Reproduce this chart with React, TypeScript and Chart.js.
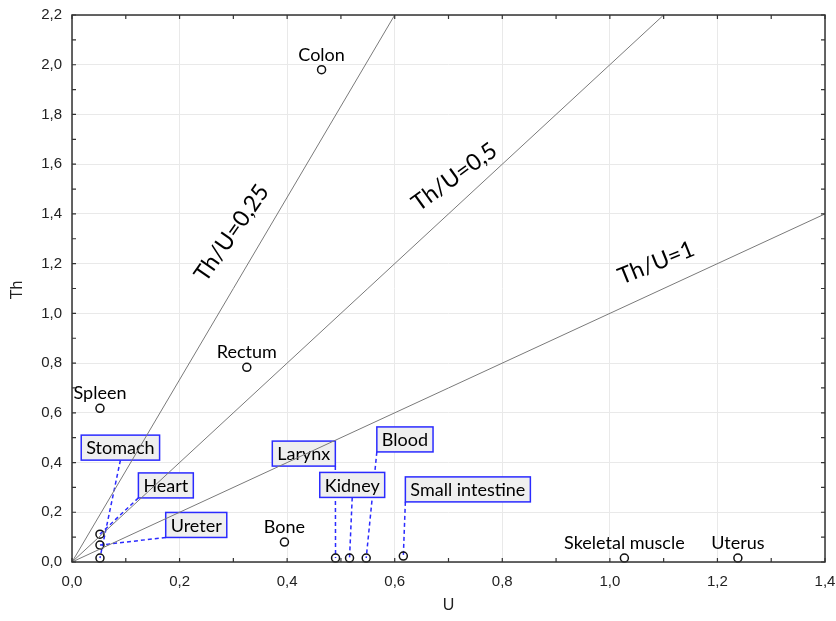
import React, { useEffect, useRef } from "react";
import { Chart, registerables } from "chart.js";

Chart.register(...registerables);

// ---- data ----
const organs = ["Colon", "Rectum", "Spleen", "Stomach", "Heart", "Ureter", "Bone", "Larynx", "Kidney", "Blood", "Small intestine", "Skeletal muscle", "Uterus"];
const uValues = [0.464, 0.325, 0.052, 0.052, 0.052, 0.052, 0.395, 0.49, 0.516, 0.547, 0.616, 1.027, 1.238];
const thValues = [1.98, 0.783, 0.618, 0.016, 0.112, 0.068, 0.08, 0.016, 0.016, 0.016, 0.024, 0.016, 0.016];
const boxedLabel = [false, false, false, true, true, true, false, true, true, true, true, false, false];
// boxed label centres in data units (U, Th)
const boxU = [0, 0, 0, 0.09, 0.1745, 0.231, 0, 0.431, 0.521, 0.619, 0.736, 0, 0];
const boxTh = [0, 0, 0, 0.46, 0.308, 0.149, 0, 0.436, 0.31, 0.493, 0.292, 0, 0];
const boxAnchor = ["", "", "", "bottom", "bottomLeft", "bottomLeft", "", "bottomRight", "bottom", "bottomLeft", "bottomLeft", "", ""];

const refLabels = ["Th/U=0,25", "Th/U=0,5", "Th/U=1"];
const refEndU = [0.6, 1.1, 1.4];
const refEndTh = [2.2, 2.2, 1.4];
const refLabelU = [0.297, 0.711, 1.086];
const refLabelTh = [1.323, 1.549, 1.203];
const refLabelAngle = [-55, -36, -22];

const xMin = 0, xMax = 1.4, yMin = 0, yMax = 2.2;
const majorStep = 0.2, minorStep = 0.1;

const fmt = (v: number) => v.toFixed(1).replace(".", ",");

const labelFont = "18px Lato, 'Open Sans', sans-serif";

const annotPlugin = {
  id: "annot",
  beforeDatasetsDraw(chart: any) {
    const { ctx } = chart;
    const xs = chart.scales.x, ys = chart.scales.y;
    ctx.save();
    ctx.font = labelFont;
    const boxes: any[] = [];
    organs.forEach((name, i) => {
      if (!boxedLabel[i]) return;
      const cx = xs.getPixelForValue(boxU[i]);
      const cy = ys.getPixelForValue(boxTh[i]);
      const w = ctx.measureText(name).width + 10;
      const h = 25;
      const l = cx - w / 2, t = cy - h / 2;
      boxes.push({ name, l, t, w, h, cx, cy });
      let ax = cx, ay = t + h;
      if (boxAnchor[i] === "bottomLeft") ax = l;
      if (boxAnchor[i] === "bottomRight") ax = l + w;
      const px = xs.getPixelForValue(uValues[i]);
      const py = ys.getPixelForValue(thValues[i]);
      ctx.strokeStyle = "#2b2bff";
      ctx.lineWidth = 1.5;
      ctx.setLineDash([4, 3]);
      ctx.beginPath();
      ctx.moveTo(ax, ay);
      ctx.lineTo(px, py);
      ctx.stroke();
    });
    ctx.setLineDash([]);
    boxes.forEach((b) => {
      ctx.fillStyle = "#efefef";
      ctx.fillRect(b.l, b.t, b.w, b.h);
      ctx.strokeStyle = "#2b2bff";
      ctx.lineWidth = 1.5;
      ctx.strokeRect(b.l, b.t, b.w, b.h);
      ctx.fillStyle = "#000";
      ctx.textAlign = "center";
      ctx.textBaseline = "middle";
      ctx.fillText(b.name, b.cx, b.cy + 1);
    });
    ctx.restore();
  },
  afterDatasetsDraw(chart: any) {
    const { ctx, chartArea } = chart;
    const xs = chart.scales.x, ys = chart.scales.y;
    ctx.save();
    ctx.font = labelFont;
    ctx.fillStyle = "#000";
    ctx.textAlign = "center";
    ctx.textBaseline = "middle";
    organs.forEach((name, i) => {
      if (boxedLabel[i]) return;
      const px = xs.getPixelForValue(uValues[i]);
      const py = ys.getPixelForValue(thValues[i]);
      ctx.fillText(name, px, py - 15);
    });
    ctx.font = "23px Lato, 'Open Sans', sans-serif";
    refLabels.forEach((t, i) => {
      const px = xs.getPixelForValue(refLabelU[i]);
      const py = ys.getPixelForValue(refLabelTh[i]);
      ctx.save();
      ctx.translate(px, py);
      ctx.rotate((refLabelAngle[i] * Math.PI) / 180);
      ctx.fillText(t, 0, 0);
      ctx.restore();
    });
    ctx.strokeStyle = "#333";
    ctx.lineWidth = 1.5;
    ctx.strokeRect(chartArea.left, chartArea.top, chartArea.right - chartArea.left, chartArea.bottom - chartArea.top);
    ctx.lineWidth = 1.2;
    const tl = 4;
    for (let k = 0; k <= Math.round((xMax - xMin) / minorStep); k++) {
      const x = xs.getPixelForValue(xMin + k * minorStep);
      ctx.beginPath();
      ctx.moveTo(x, chartArea.bottom);
      ctx.lineTo(x, chartArea.bottom - tl);
      ctx.moveTo(x, chartArea.top);
      ctx.lineTo(x, chartArea.top + tl);
      ctx.stroke();
    }
    for (let k = 0; k <= Math.round((yMax - yMin) / minorStep); k++) {
      const y = ys.getPixelForValue(yMin + k * minorStep);
      ctx.beginPath();
      ctx.moveTo(chartArea.left, y);
      ctx.lineTo(chartArea.left + tl, y);
      ctx.moveTo(chartArea.right, y);
      ctx.lineTo(chartArea.right - tl, y);
      ctx.stroke();
    }
    ctx.fillStyle = "#222";
    ctx.font = "16px 'Liberation Sans', Arial, sans-serif";
    ctx.fillText("U", (chartArea.left + chartArea.right) / 2, 606);
    ctx.save();
    ctx.translate(18, 290);
    ctx.rotate(-Math.PI / 2);
    ctx.fillText("Th", 0, 0);
    ctx.restore();
    ctx.restore();
  },
};

export default function App() {
  const ref = useRef<HTMLCanvasElement>(null);
  useEffect(() => {
    if (!ref.current) return;
    const refDatasets = refLabels.map((lab, i) => ({
      type: "line" as const,
      label: lab,
      data: [
        { x: 0, y: 0 },
        { x: refEndU[i], y: refEndTh[i] },
      ],
      borderColor: "#7a7a7a",
      borderWidth: 1,
      pointRadius: 0,
      fill: false,
    }));
    const chart = new Chart(ref.current, {
      type: "scatter",
      data: {
        datasets: [
          ...refDatasets,
          {
            type: "scatter" as const,
            label: "Organs",
            data: organs.map((_, i) => ({ x: uValues[i], y: thValues[i] })),
            pointRadius: 4,
            pointBorderWidth: 1.5,
            pointBorderColor: "#111",
            pointBackgroundColor: "rgba(255,255,255,0)",
          },
        ] as any,
      },
      options: {
        animation: false,
        responsive: false,
        clip: false as any,
        layout: { autoPadding: false, padding: { left: 0, top: 15, right: 11, bottom: 0 } } as any,
        plugins: { legend: { display: false }, tooltip: { enabled: false } },
        scales: {
          x: {
            type: "linear",
            min: xMin,
            max: xMax,
            ticks: {
              stepSize: majorStep,
              callback: (v: any) => fmt(Number(v)),
              color: "#222",
              font: { family: "'Liberation Sans', Arial, sans-serif", size: 15 },
              padding: 11,
              maxRotation: 0,
            },
            grid: { color: "#e9e9e9", drawTicks: false, lineWidth: 1 },
            border: { display: false },
            afterFit: (s: any) => {
              s.height = 59;
              s.paddingLeft = 0;
              s.paddingRight = 0;
            },
          },
          y: {
            type: "linear",
            min: yMin,
            max: yMax,
            ticks: {
              stepSize: majorStep,
              callback: (v: any) => fmt(Number(v)),
              color: "#222",
              font: { family: "'Liberation Sans', Arial, sans-serif", size: 15 },
              padding: 10,
            },
            grid: { color: "#e9e9e9", drawTicks: false, lineWidth: 1 },
            border: { display: false },
            afterFit: (s: any) => {
              s.width = 72;
              s.paddingTop = 0;
              s.paddingBottom = 0;
            },
          },
        },
      },
      plugins: [annotPlugin],
    });
    return () => chart.destroy();
  }, []);
  return (
    <div style={{ position: "fixed", left: 0, top: 0, width: 836, height: 621, background: "#fff" }}>
      <canvas ref={ref} width={836} height={621} />
    </div>
  );
}
